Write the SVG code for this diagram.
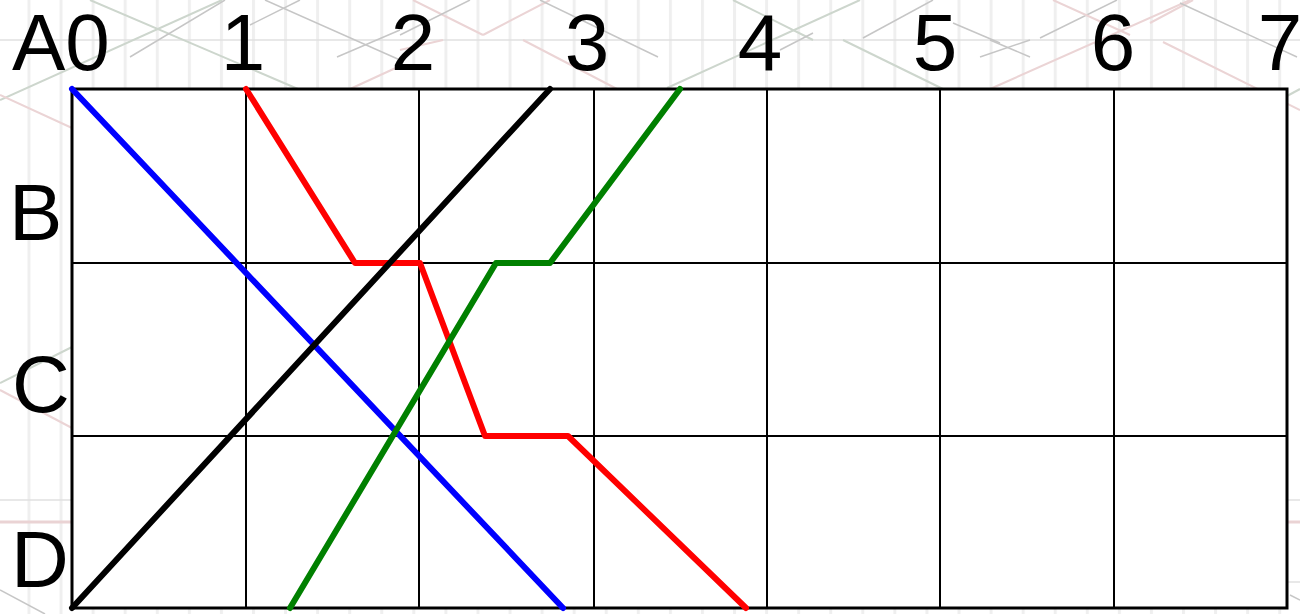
<svg xmlns="http://www.w3.org/2000/svg" width="1300" height="614" viewBox="0 0 1300 614">
<style>
.lbl{font-family:"Liberation Sans",Arial,sans-serif;font-size:80px;fill:#000}
.g{stroke:#cdd6cd;stroke-width:2;fill:none}
.p{stroke:#ebd4d5;stroke-width:2;fill:none}
.k{stroke:#c6c6c6;stroke-width:1.5;fill:none}
.grid{stroke:#000;stroke-width:2;fill:none}
.path{fill:none;stroke-width:6;stroke-linecap:round;stroke-linejoin:round}
</style>
<defs>
<pattern id="vl" x="27.5" y="0" width="32.07" height="614" patternUnits="userSpaceOnUse">
<rect x="0" y="0" width="3" height="614" fill="#efefef"/>
</pattern>
</defs>
<g id="background">
<rect width="1300" height="614" fill="#fff"/>
<rect width="1300" height="614" fill="url(#vl)"/>
<line x1="0" y1="40" x2="1300" y2="40" stroke="#e0e0e0" stroke-width="1.5"/>
<line x1="0" y1="500" x2="72" y2="500" stroke="#e0e0e0" stroke-width="1.5"/>
<line x1="0" y1="522" x2="72" y2="522" stroke="#ead3d4" stroke-width="3"/>
<line x1="1287" y1="500" x2="1300" y2="500" stroke="#e0e0e0" stroke-width="1.5"/>
<line x1="1287" y1="522" x2="1300" y2="522" stroke="#ead3d4" stroke-width="3"/>
<line x1="1287" y1="582" x2="1300" y2="582" stroke="#e0e0e0" stroke-width="1.5"/>
<line class="g" x1="0" y1="100" x2="222" y2="0"/>
<line class="g" x1="90" y1="0" x2="298" y2="89"/>
<line class="k" x1="130" y1="57" x2="225" y2="0"/>
<line class="k" x1="250" y1="25" x2="300" y2="0"/>
<line class="k" x1="265" y1="0" x2="400" y2="60"/>
<line class="k" x1="337" y1="57" x2="400" y2="30"/>
<line class="p" x1="350" y1="89" x2="400" y2="66"/>
<line class="p" x1="413" y1="0" x2="483" y2="35"/>
<line class="p" x1="483" y1="35" x2="550" y2="0"/>
<line class="p" x1="400" y1="50" x2="443" y2="40"/>
<line class="p" x1="523" y1="40" x2="617" y2="89"/>
<line class="k" x1="400" y1="35" x2="470" y2="0"/>
<line class="k" x1="540" y1="0" x2="658" y2="57"/>
<line class="g" x1="667" y1="88" x2="860" y2="0"/>
<line class="g" x1="733" y1="0" x2="813" y2="40"/>
<line class="g" x1="843" y1="40" x2="943" y2="89"/>
<line class="k" x1="780" y1="50" x2="813" y2="33"/>
<line class="k" x1="863" y1="38" x2="933" y2="0"/>
<line class="k" x1="953" y1="23" x2="1000" y2="43"/>
<line class="k" x1="980" y1="57" x2="1030" y2="40"/>
<line class="k" x1="990" y1="40" x2="1030" y2="57"/>
<line class="k" x1="1040" y1="38" x2="1117" y2="0"/>
<line class="p" x1="990" y1="89" x2="1190" y2="0"/>
<line class="p" x1="1053" y1="0" x2="1130" y2="35"/>
<line class="p" x1="1150" y1="23" x2="1193" y2="0"/>
<line class="p" x1="1163" y1="42" x2="1300" y2="110"/>
<line class="k" x1="1180" y1="3" x2="1297" y2="57"/>
<line class="g" x1="1287" y1="96" x2="1300" y2="89"/>
<line class="p" x1="0" y1="95" x2="72" y2="128"/>
<line class="g" x1="0" y1="383" x2="72" y2="347"/>
<line class="p" x1="0" y1="390" x2="72" y2="428"/>
<line class="k" x1="0" y1="590" x2="45" y2="614"/>
<line class="k" x1="1290" y1="595" x2="1300" y2="600"/>
</g>
<g id="grid">
<rect x="72" y="89" width="1215" height="519" fill="#fff" stroke="#000" stroke-width="3"/>
<path class="grid" d="M246 89V608M419 89V608M594 89V608M767 89V608M940 89V608M1114 89V608M72 263H1287M72 436H1287"/>
</g>
<g id="labels">
<text class="lbl" x="12" y="70">A0</text>
<text class="lbl" x="243" y="70" text-anchor="middle">1</text>
<text class="lbl" x="413" y="70" text-anchor="middle">2</text>
<text class="lbl" x="587" y="70" text-anchor="middle">3</text>
<text class="lbl" x="760" y="70" text-anchor="middle">4</text>
<text class="lbl" x="935" y="70" text-anchor="middle">5</text>
<text class="lbl" x="1113" y="70" text-anchor="middle">6</text>
<text class="lbl" x="1280" y="70" text-anchor="middle">7</text>
<text class="lbl" x="9" y="240">B</text>
<text class="lbl" x="12" y="412">C</text>
<text class="lbl" x="11" y="587">D</text>
</g>
<g id="connectors">
<polyline id="blue" class="path" stroke="#0000ff" points="72,89 563,608"/>
<polyline id="red" class="path" stroke="#ff0000" points="246,89 355,263 420,263 485,436 568,436 746,608"/>
<polyline id="black" class="path" stroke="#000000" points="72,608 550,89"/>
<polyline id="green" class="path" stroke="#008000" points="290,608 496,263 550,263 680,89"/>
</g>
</svg>
